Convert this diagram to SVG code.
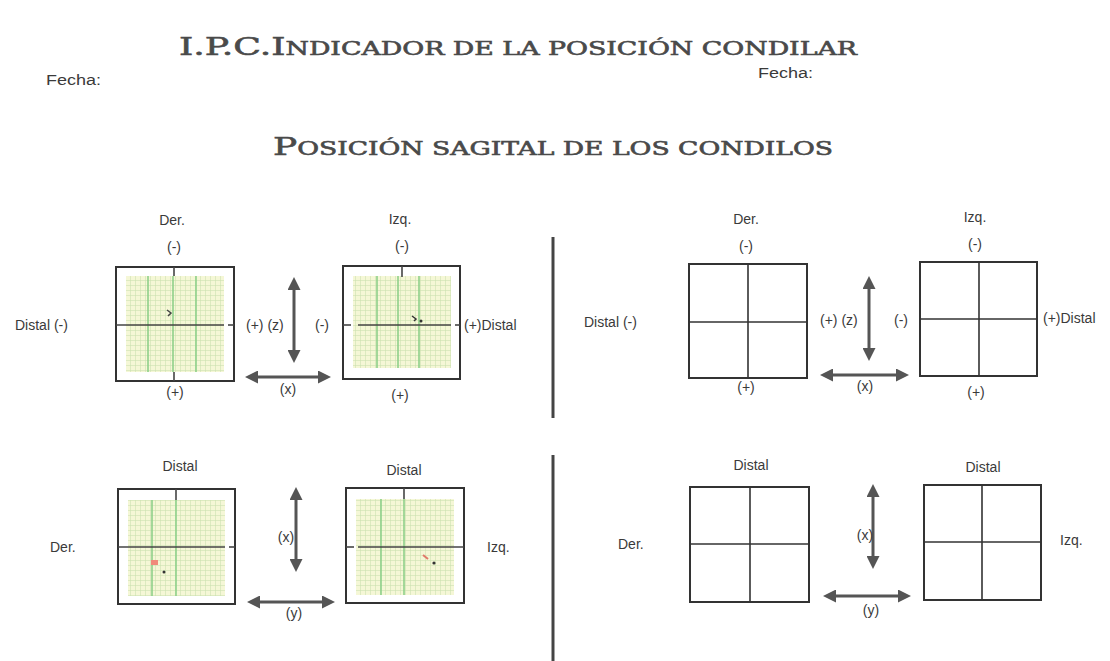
<svg xmlns="http://www.w3.org/2000/svg" width="1110" height="661" viewBox="0 0 1110 661">
<style>
.t{font-family:"Liberation Sans",Arial,sans-serif;font-size:14px;fill:#3a3a3a}
.m{text-anchor:middle}
.ttl{font-family:"DejaVu Serif","Liberation Serif",serif;fill:#4a4a4a;stroke:#4a4a4a;stroke-width:0.6}
.box{fill:none;stroke:#333;stroke-width:2}
.ax{stroke:#444;stroke-width:1.6}
.q{stroke:#333;stroke-width:1.6}
.maj{stroke:#8fd08a;stroke-width:1.6}
.arr{stroke:#555;stroke-width:3;fill:none;marker-start:url(#ah);marker-end:url(#ah)}
.div{stroke:#444;stroke-width:3}
</style>
<defs>
<pattern id="grid" width="5" height="5" patternUnits="userSpaceOnUse">
<rect width="5" height="5" fill="#f5f7d6"/>
<path d="M0,0.3H5M0.3,0V5" stroke="#c9dfae" stroke-width="0.7"/>
</pattern>
<marker id="ah" viewBox="0 0 13 13" refX="2" refY="6.5" markerWidth="13" markerHeight="13" markerUnits="userSpaceOnUse" orient="auto-start-reverse">
<path d="M0,0L13,6.5L0,13z" fill="#555"/>
</marker>
</defs>
<rect width="1110" height="661" fill="#fff"/>

<g id="title">
<text class="ttl" x="179" y="55" textLength="678" lengthAdjust="spacingAndGlyphs"><tspan font-size="25">I.P.C.I</tspan><tspan font-size="18.5">NDICADOR DE LA POSICIÓN CONDILAR</tspan></text>
<text class="t" x="46" y="85" font-size="16" textLength="55" lengthAdjust="spacingAndGlyphs">Fecha:</text>
<text class="t" x="758" y="78" font-size="16" textLength="55" lengthAdjust="spacingAndGlyphs">Fecha:</text>
<text class="ttl" x="273" y="155" textLength="560" lengthAdjust="spacingAndGlyphs"><tspan font-size="25">P</tspan><tspan font-size="18.5">OSICIÓN SAGITAL DE LOS CONDILOS</tspan></text>
</g>

<g id="dividers">
<line class="div" x1="553" y1="237" x2="553" y2="418"/>
<line class="div" x1="553" y1="455" x2="553" y2="661"/>
</g>

<g id="box1">
<rect x="126" y="276" width="98" height="96" fill="url(#grid)"/>
<line class="maj" x1="148" y1="276" x2="148" y2="372"/>
<line class="maj" x1="173" y1="276" x2="173" y2="372"/>
<line class="maj" x1="196" y1="276" x2="196" y2="372"/>
<rect class="box" x="116" y="267" width="118" height="114"/>
<line class="ax" x1="116" y1="325" x2="224" y2="325"/>
<line class="ax" x1="228" y1="325" x2="234" y2="325"/>
<line class="ax" x1="174" y1="267" x2="174" y2="276"/>
<line class="ax" x1="174" y1="372" x2="174" y2="381"/>
<path d="M167,310l4,3l-3,3" stroke="#444" stroke-width="1.5" fill="none"/>
</g>

<g id="box2">
<rect x="353" y="276" width="98" height="92" fill="url(#grid)"/>
<line class="maj" x1="377" y1="276" x2="377" y2="368"/>
<line class="maj" x1="398" y1="276" x2="398" y2="368"/>
<line class="maj" x1="419" y1="276" x2="419" y2="368"/>
<rect class="box" x="343" y="266" width="117" height="113"/>
<line class="ax" x1="343" y1="325" x2="351" y2="325"/>
<line class="ax" x1="358" y1="325" x2="451" y2="325"/>
<line class="ax" x1="455" y1="325" x2="460" y2="325"/>
<line class="ax" x1="402" y1="266" x2="402" y2="277"/>
<path d="M412,316l4,3l-2,2" stroke="#333" stroke-width="1.5" fill="none"/>
<circle cx="421" cy="321" r="1.5" fill="#333"/>
</g>

<g id="box3">
<rect x="128" y="500" width="97" height="96" fill="url(#grid)"/>
<line class="maj" x1="152" y1="500" x2="152" y2="596"/>
<line class="maj" x1="176" y1="500" x2="176" y2="596"/>
<rect class="box" x="118" y="489" width="117" height="115"/>
<line class="ax" x1="118" y1="547" x2="225" y2="547"/>
<line class="ax" x1="229" y1="547" x2="235" y2="547"/>
<line class="ax" x1="176" y1="489" x2="176" y2="500"/>
<rect x="151" y="560" width="7" height="5" fill="#f08a7a"/>
<circle cx="164" cy="572" r="1.5" fill="#333"/>
</g>

<g id="box4">
<rect x="356" y="499" width="98" height="96" fill="url(#grid)"/>
<line class="maj" x1="381" y1="499" x2="381" y2="595"/>
<line class="maj" x1="404" y1="499" x2="404" y2="595"/>
<rect class="box" x="346" y="488" width="118" height="115"/>
<line class="ax" x1="346" y1="547" x2="354" y2="547"/>
<line class="ax" x1="358" y1="547" x2="464" y2="547"/>
<line class="ax" x1="404" y1="488" x2="404" y2="499"/>
<path d="M423,555l5,4" stroke="#e07a6a" stroke-width="2"/>
<circle cx="434" cy="563" r="1.6" fill="#333"/>
</g>

<g id="box5">
<rect class="box" x="689" y="264" width="118" height="114"/>
<line class="q" x1="748" y1="264" x2="748" y2="378"/>
<line class="q" x1="689" y1="322" x2="807" y2="322"/>
</g>
<g id="box6">
<rect class="box" x="920" y="262" width="117" height="114"/>
<line class="q" x1="979" y1="262" x2="979" y2="376"/>
<line class="q" x1="920" y1="319" x2="1037" y2="319"/>
</g>
<g id="box7">
<rect class="box" x="690" y="487" width="119" height="115"/>
<line class="q" x1="750" y1="487" x2="750" y2="602"/>
<line class="q" x1="690" y1="544" x2="809" y2="544"/>
</g>
<g id="box8">
<rect class="box" x="924" y="485" width="117" height="115"/>
<line class="q" x1="982" y1="485" x2="982" y2="600"/>
<line class="q" x1="924" y1="542" x2="1041" y2="542"/>
</g>

<g id="connectors">
<line class="arr" x1="294" y1="288" x2="294" y2="352"/>
<line class="arr" x1="256" y1="377" x2="320" y2="377"/>
<line class="arr" x1="869" y1="287" x2="869" y2="350"/>
<line class="arr" x1="831" y1="375" x2="898" y2="375"/>
<line class="arr" x1="296" y1="498" x2="296" y2="561"/>
<line class="arr" x1="258" y1="602" x2="324" y2="602"/>
<line class="arr" x1="873" y1="495" x2="873" y2="558"/>
<line class="arr" x1="834" y1="596" x2="900" y2="596"/>
</g>

<g id="labels">
<text class="t m" x="172" y="225">Der.</text>
<text class="t m" x="174" y="252">(-)</text>
<text class="t" x="15" y="330">Distal (-)</text>
<text class="t" x="246" y="330">(+) (z)</text>
<text class="t m" x="322" y="330">(-)</text>
<text class="t" x="464" y="330">(+)Distal</text>
<text class="t m" x="175" y="397">(+)</text>
<text class="t m" x="288" y="394">(x)</text>
<text class="t m" x="400" y="400">(+)</text>
<text class="t m" x="400" y="224">Izq.</text>
<text class="t m" x="402" y="251">(-)</text>

<text class="t m" x="180" y="471">Distal</text>
<text class="t m" x="404" y="475">Distal</text>
<text class="t" x="50" y="552">Der.</text>
<text class="t m" x="286" y="542">(x)</text>
<text class="t m" x="294" y="618">(y)</text>
<text class="t" x="487" y="552">Izq.</text>

<text class="t m" x="746" y="224">Der.</text>
<text class="t m" x="746" y="251">(-)</text>
<text class="t" x="584" y="327">Distal (-)</text>
<text class="t" x="820" y="325">(+) (z)</text>
<text class="t m" x="901" y="325">(-)</text>
<text class="t" x="1043" y="323">(+)Distal</text>
<text class="t m" x="746" y="392">(+)</text>
<text class="t m" x="865" y="391">(x)</text>
<text class="t m" x="976" y="397">(+)</text>
<text class="t m" x="975" y="222">Izq.</text>
<text class="t m" x="975" y="249">(-)</text>

<text class="t m" x="751" y="470">Distal</text>
<text class="t m" x="983" y="472">Distal</text>
<text class="t" x="618" y="549">Der.</text>
<text class="t m" x="865" y="540">(x)</text>
<text class="t m" x="871" y="615">(y)</text>
<text class="t" x="1060" y="545">Izq.</text>
</g>
</svg>
